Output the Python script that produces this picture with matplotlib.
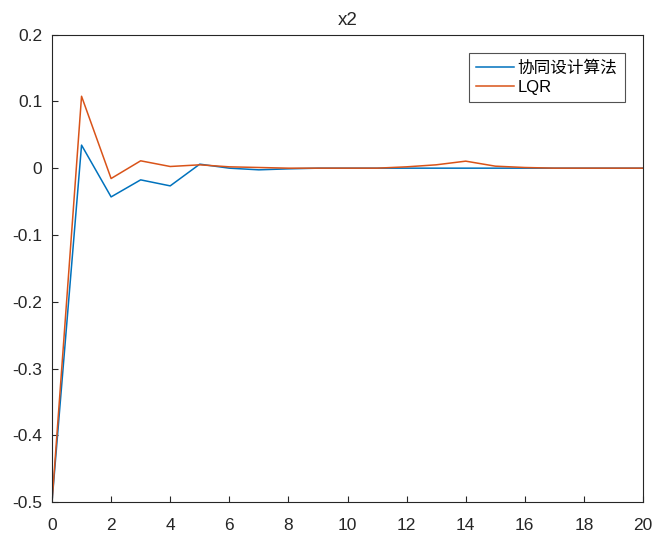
import matplotlib
matplotlib.use("Agg")
import matplotlib.pyplot as plt

plt.rcParams['font.family'] = ['Liberation Sans', 'Noto Sans CJK SC', 'DejaVu Sans']

k = list(range(21))
x2_co = [-0.5, 0.0345, -0.043, -0.0175, -0.0265, 0.006, 0.0, -0.0025, -0.001, 0.0,
         0.0, 0.0, 0.0, 0.0, 0.0, 0.0, 0.0, 0.0, 0.0, 0.0, 0.0]
x2_lqr = [-0.5, 0.1076, -0.0155, 0.011, 0.0025, 0.005, 0.002, 0.001, 0.0, 0.0,
          0.0, 0.0, 0.002, 0.005, 0.0105, 0.003, 0.001, 0.0, 0.0, 0.0, 0.0]
labels = ['协同设计算法', 'LQR']
xticks = list(range(0, 21, 2))
yticks = [-0.5, -0.4, -0.3, -0.2, -0.1, 0, 0.1, 0.2]
yticklabels = ['-0.5', '-0.4', '-0.3', '-0.2', '-0.1', '0', '0.1', '0.2']

fig = plt.figure(figsize=(6.54, 5.35), dpi=100)
ax = fig.add_axes([0.0795, 0.0611, 0.9037, 0.8744])
ax.plot(k, x2_co, color=(0, 0.447, 0.741), lw=1.1, label=labels[0])
ax.plot(k, x2_lqr, color=(0.85, 0.325, 0.098), lw=1.1, label=labels[1])
ax.set_xlim(0, 20)
ax.set_ylim(-0.5, 0.2)
ax.set_xticks(xticks)
ax.set_yticks(yticks)
ax.set_yticklabels(yticklabels)
ax.tick_params(direction='in', labelsize=12.5, length=4, color='#262626', labelcolor='#262626')
ax.tick_params(axis='x', pad=11)
ax.tick_params(axis='y', pad=7)
for s in ax.spines.values():
    s.set_color('#262626')
    s.set_linewidth(0.8)
ax.set_title('x2', fontsize=13.5, color='#262626', pad=7)
leg = ax.legend(loc='upper right', bbox_to_anchor=(0.9695, 0.961), fontsize=12,
                frameon=True, fancybox=False, edgecolor='#262626', handlelength=2.3,
                borderpad=0.45, labelspacing=0.25, handletextpad=0.2, borderaxespad=0)
leg.get_frame().set_linewidth(0.8)
for t in leg.get_texts():
    t.set_family(['Liberation Sans', 'Noto Sans CJK SC'])
fig.savefig('out.png', dpi=100)
